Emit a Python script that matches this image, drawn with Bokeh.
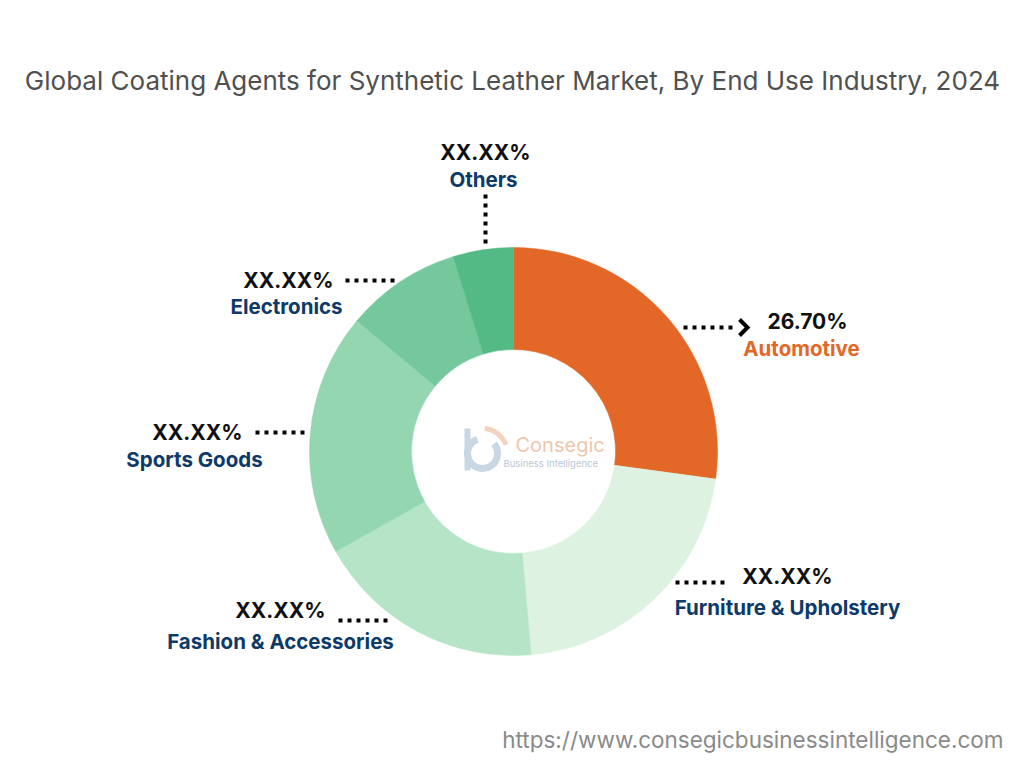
from bokeh.plotting import figure
from bokeh.models import Label, Range1d
from bokeh.embed import file_html
from bokeh.resources import INLINE
import math

# ---- data ----
categories = ["Automotive", "Furniture & Upholstery", "Fashion & Accessories",
              "Sports Goods", "Electronics", "Others"]
shares = [26.7, 21.1, 17.9, 18.9, 9.0, 4.7]
value_labels = ["26.70%", "XX.XX%", "XX.XX%", "XX.XX%", "XX.XX%", "XX.XX%"]
colors = ["#E36726", "#DDF2E0", "#B5E4C7", "#93D6AF", "#74C89C", "#53BA86"]

W, H = 1024, 768
def Y(py):
    return H - py

p = figure(width=W, height=H, x_range=Range1d(0, W), y_range=Range1d(0, H),
           output_backend="svg", toolbar_location=None,
           x_axis_type=None, y_axis_type=None, min_border=0)
p.outline_line_color = None
p.grid.visible = False
p.background_fill_color = "white"
p.border_fill_color = "white"

# ---- donut ----
cx, cy = 513, 451
r_in, r_out = 102, 204
total = sum(shares)
starts, ends = [], []
cum = 0.0
for s in shares:
    a_cw = cum / total * 2 * math.pi
    b_cw = (cum + s) / total * 2 * math.pi
    starts.append(math.pi / 2 - b_cw)
    ends.append(math.pi / 2 - a_cw)
    cum += s
p.annular_wedge(x=[cx] * len(shares), y=[Y(cy)] * len(shares),
                inner_radius=r_in, outer_radius=r_out,
                start_angle=starts, end_angle=ends,
                fill_color=colors, line_color=colors, line_width=0.5)

# ---- watermark logo ----
p.arc(x=[482], y=[Y(453)], radius=15, start_angle=math.radians(110),
      end_angle=math.radians(400), line_color="#C9D6E3", line_width=7)
p.arc(x=[482], y=[Y(453)], radius=25, start_angle=math.radians(20),
      end_angle=math.radians(85), line_color="#F3D3C0", line_width=5)
p.line(x=[467, 467], y=[Y(428), Y(470)], line_color="#C9D6E3", line_width=6)
p.add_layout(Label(x=515, y=Y(444), text="Consegic", text_font="Inter",
                   text_font_size="20px", text_color="#F0C6AD",
                   text_align="left", text_baseline="middle"))
p.add_layout(Label(x=503, y=Y(463), text="Business Intelligence", text_font="Inter",
                   text_font_size="9.5px", text_color="#B9C9D9",
                   text_align="left", text_baseline="middle"))

# ---- title ----
p.add_layout(Label(x=512, y=Y(80), text="Global Coating Agents for Synthetic Leather Market, By End Use Industry, 2024",
                   text_font="Inter", text_font_size="26px", text_color="#505050",
                   text_align="center", text_baseline="middle"))

# ---- labels layout (pixel positions) ----
# (value x, value y, name x, name y)
lab_pos = [
    (807, 321, 801, 348),
    (787, 576, 787, 607),
    (280, 610, 280, 641),
    (197, 432, 194, 459),
    (288, 280, 286, 306),
    (485, 152, 483, 179),
]
for i, (vx, vy, nx, ny) in enumerate(lab_pos):
    p.add_layout(Label(x=vx, y=Y(vy), text=value_labels[i], text_font="Inter",
                       text_font_style="bold", text_font_size="21px", text_color="#111111",
                       text_align="center", text_baseline="middle"))
    p.add_layout(Label(x=nx, y=Y(ny), text=categories[i], text_font="Inter",
                       text_font_style="bold", text_font_size="20.5px",
                       text_color=("#E36726" if i == 0 else "#0E3A68"),
                       text_align="center", text_baseline="middle"))

# ---- dotted leader lines ----
leaders = [
    ((683, 327), (737, 327)),
    ((675, 582), (729, 582)),
    ((338, 620), (392, 620)),
    ((255, 432), (309, 432)),
    ((345, 280), (399, 280)),
]
for (x0, y0), (x1, y1) in leaders:
    p.line(x=[x0, x1], y=[Y(y0), Y(y1)], line_color="black", line_width=4,
           line_dash="4 5", line_cap="butt")
p.line(x=[485, 485], y=[Y(194), Y(248)], line_color="black", line_width=4,
       line_dash="4 5", line_cap="butt")
# arrow head
p.line(x=[739, 747, 739], y=[Y(319), Y(327), Y(335)], line_color="black",
       line_width=4, line_join="miter")

# ---- source url ----
p.add_layout(Label(x=1003, y=Y(739), text="https://www.consegicbusinessintelligence.com",
                   text_font="Inter", text_font_size="22.5px", text_color="#8A8A8A",
                   text_align="right", text_baseline="middle"))

open("out.html", "w").write(file_html(p, INLINE))
